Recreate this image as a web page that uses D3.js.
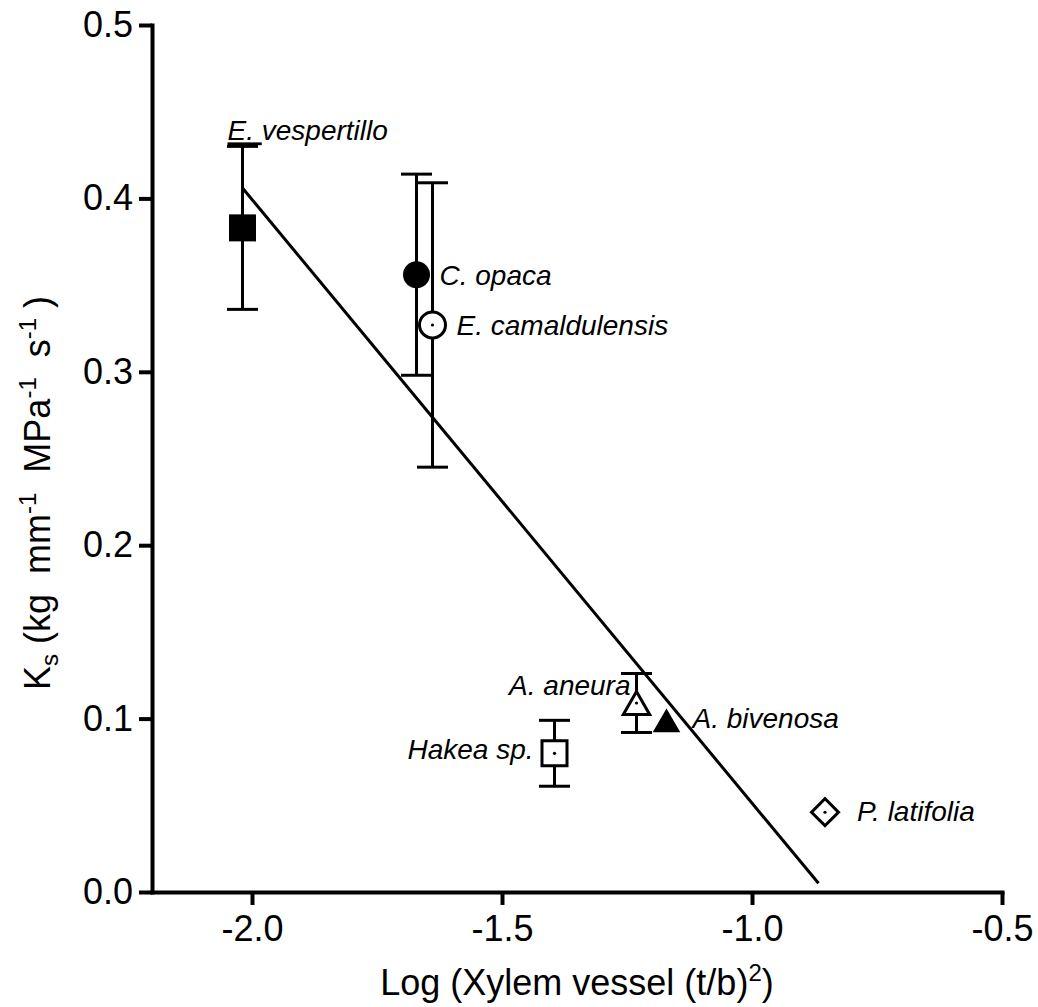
<!DOCTYPE html>
<html>
<head>
<meta charset="utf-8">
<script src="https://cdn.jsdelivr.net/npm/d3@7"></script>
<style>
   body { margin: 0; background: #fff; }
   text { font-family: "Liberation Sans", Arial, sans-serif; fill: #000; }
</style>
</head>
<body>
<div class="chart"></div>
<script>
// values
const species = ["E. vespertillo", "C. opaca", "E. camaldulensis", "A. aneura", "A. bivenosa", "Hakea sp.", "P. latifolia"];
const logVessel = [-2.019, -1.671, -1.639, -1.231, -1.171, -1.395, -0.854];
const ks = [0.383, 0.356, 0.327, 0.109, 0.099, 0.080, 0.046];
const ksError = [0.047, 0.058, 0.082, 0.017, 0, 0.019, 0];

// fitted regression line (end points)
const fitX = [-2.019, -0.867];
const fitY = [0.406, 0.005];

// tick labels
const xTicks = [-2.0, -1.5, -1.0, -0.5];
const yTicks = [0.0, 0.1, 0.2, 0.3, 0.4, 0.5];

// setup chart
const width = 1038;
const height = 1007;
const margin = { top: 25, right: 36, bottom: 115, left: 152 };
const svg = d3.select(".chart").append("svg").attr("width", width).attr("height", height);

const x = d3.scaleLinear().domain([-2.2, -0.5]).range([margin.left, width - margin.right]);
const y = d3.scaleLinear().domain([0, 0.5]).range([height - margin.bottom, margin.top]);

const points = species.map((name, i) => ({
   name,
   x: logVessel[i],
   y: ks[i],
   err: ksError[i],
}));

// marker look for each species
const markerStyle = {
   "E. vespertillo": { type: "square", size: 729, fill: "#000", dot: false },
   "C. opaca": { type: "circle", size: 572, fill: "#000", dot: false },
   "E. camaldulensis": { type: "circle", size: 531, fill: "#fff", dot: true },
   "A. aneura": { type: "triangle", size: 300, fill: "#fff", dot: true },
   "A. bivenosa": { type: "triangle", size: 330, fill: "#000", dot: false },
   "Hakea sp.": { type: "square", size: 625, fill: "#fff", dot: true },
   "P. latifolia": { type: "diamond", size: 365, fill: "#fff", dot: true },
};

// label placement relative to the point
const labelPlace = {
   "E. vespertillo": { anchor: "start", dx: -15, dy: null },
   "C. opaca": { anchor: "start", dx: 23, dy: 10 },
   "E. camaldulensis": { anchor: "start", dx: 24, dy: 10 },
   "A. aneura": { anchor: "end", dx: -6, dy: -8 },
   "A. bivenosa": { anchor: "start", dx: 26, dy: 8 },
   "Hakea sp.": { anchor: "end", dx: -21, dy: 6 },
   "P. latifolia": { anchor: "start", dx: 32, dy: 9 },
};

// axes
const yAxis = svg
   .append("g")
   .attr("transform", `translate(${margin.left},0)`)
   .call(d3.axisLeft(y).tickValues(yTicks).tickFormat((d) => d.toFixed(1)).tickSize(13).tickPadding(6).tickSizeOuter(0));

const xAxis = svg
   .append("g")
   .attr("transform", `translate(0,${height - margin.bottom})`)
   .call(d3.axisBottom(x).tickValues(xTicks).tickFormat((d) => d.toFixed(1)).tickSize(13).tickPadding(10).tickSizeOuter(0));

[xAxis, yAxis].forEach((axis) => {
   axis.select(".domain").attr("stroke", "#000").attr("stroke-width", 4).attr("stroke-linecap", "square");
   axis.selectAll(".tick line").attr("stroke", "#000").attr("stroke-width", 4);
   axis.selectAll(".tick text").style("font-size", "36px").attr("fill", "#000");
});

// axis titles
const xTitle = svg
   .append("text")
   .attr("x", (x.range()[0] + x.range()[1]) / 2)
   .attr("y", 995)
   .attr("text-anchor", "middle")
   .style("font-size", "36px");
xTitle.append("tspan").text("Log (Xylem vessel (t/b)");
xTitle.append("tspan").attr("dy", -14).style("font-size", "24px").text("2");
xTitle.append("tspan").attr("dy", 14).text(")");

const yTitle = svg
   .append("text")
   .attr("transform", "translate(50,690) rotate(-90)")
   .style("font-size", "36px")
   .style("white-space", "pre");
yTitle.append("tspan").text("K");
yTitle.append("tspan").attr("dy", 8).style("font-size", "24px").text("s");
yTitle.append("tspan").attr("dy", -8).text(" (kg  mm");
yTitle.append("tspan").attr("dy", -14).style("font-size", "24px").text("-1");
yTitle.append("tspan").attr("dy", 14).text("  MPa");
yTitle.append("tspan").attr("dy", -14).style("font-size", "24px").text("-1");
yTitle.append("tspan").attr("dy", 14).text("  s");
yTitle.append("tspan").attr("dy", -14).style("font-size", "24px").text("-1");
yTitle.append("tspan").attr("dy", 14).text(" )");

// regression line
svg
   .append("line")
   .attr("x1", x(fitX[0]))
   .attr("y1", y(fitY[0]))
   .attr("x2", x(fitX[1]))
   .attr("y2", y(fitY[1]))
   .attr("stroke", "#000")
   .attr("stroke-width", 3);

// error bars
const bars = svg
   .selectAll(".err")
   .data(points.filter((d) => d.err > 0))
   .enter()
   .append("g")
   .attr("class", "err")
   .attr("stroke", "#000")
   .attr("stroke-width", 3);

bars
   .append("line")
   .attr("x1", (d) => x(d.x))
   .attr("x2", (d) => x(d.x))
   .attr("y1", (d) => y(d.y - d.err))
   .attr("y2", (d) => y(d.y + d.err));

[-1, 1].forEach((side) => {
   bars
      .append("line")
      .attr("x1", (d) => x(d.x) - 15.5)
      .attr("x2", (d) => x(d.x) + 15.5)
      .attr("y1", (d) => y(d.y + side * d.err))
      .attr("y2", (d) => y(d.y + side * d.err));
});

// markers
const symbolTypes = {
   square: d3.symbolSquare,
   circle: d3.symbolCircle,
   triangle: d3.symbolTriangle,
   diamond: d3.symbolSquare,
};

const marker = svg
   .selectAll(".marker")
   .data(points)
   .enter()
   .append("g")
   .attr("class", "marker")
   .attr("transform", (d) => `translate(${x(d.x)},${y(d.y)})`);

marker
   .append("path")
   .attr("d", (d) => d3.symbol().type(symbolTypes[markerStyle[d.name].type]).size(markerStyle[d.name].size)())
   .attr("transform", (d) => {
      const s = markerStyle[d.name];
      if (s.type === "diamond") return "rotate(45)";
      // center the triangle on its box, not its centroid
      if (s.type === "triangle") return `translate(0,${Math.sqrt(s.size / (Math.sqrt(3) * 3)) / 2})`;
      return null;
   })
   .attr("fill", (d) => markerStyle[d.name].fill)
   .attr("stroke", "#000")
   .attr("stroke-width", (d) => (markerStyle[d.name].fill === "#000" ? 0 : 3));

marker
   .filter((d) => markerStyle[d.name].dot)
   .append("circle")
   .attr("r", 1.6)
   .attr("fill", "#000");

// species labels
const label = svg
   .selectAll(".label")
   .data(points)
   .enter()
   .append("text")
   .attr("class", "label")
   .attr("x", (d) => x(d.x) + labelPlace[d.name].dx)
   .attr("y", (d) => (labelPlace[d.name].dy === null ? y(d.y + d.err) - 6 : y(d.y) + labelPlace[d.name].dy))
   .attr("text-anchor", (d) => labelPlace[d.name].anchor)
   .style("font-size", "28px")
   .style("font-style", "italic")
   .style("white-space", "pre");

label
   .append("tspan")
   .style("text-decoration", (d) => (d.name === "E. vespertillo" ? "underline" : null))
   .text((d) => d.name.split(" ")[0] + " ");
label.append("tspan").text((d) => d.name.split(" ").slice(1).join(" "));
</script>
</body>
</html>
